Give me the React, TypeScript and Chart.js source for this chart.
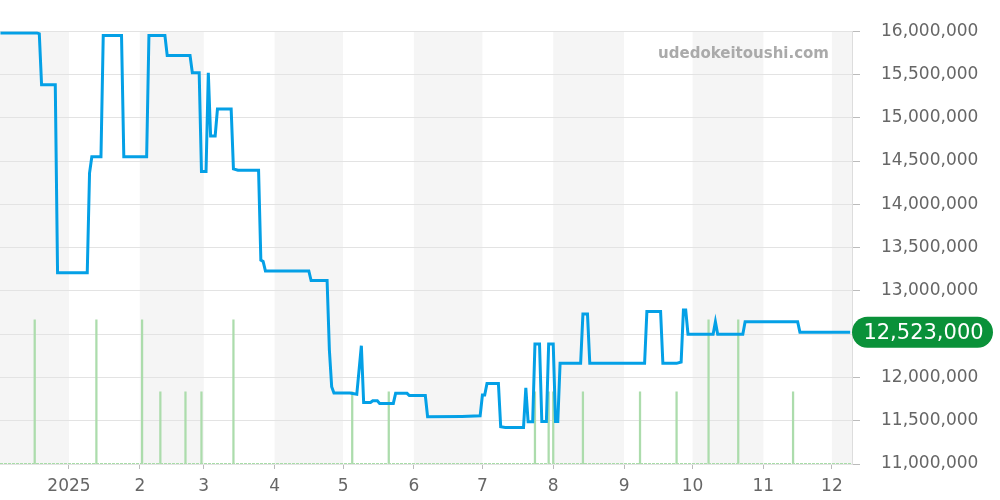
import React, { useEffect, useRef } from "react";
import { Chart, registerables } from "chart.js";

Chart.register(...registerables);

// Price series (date, JPY)
const priceDates: string[] = [
  "2024-12-02", "2024-12-18", "2024-12-19", "2024-12-20", "2024-12-26", "2024-12-27",
  "2025-01-09", "2025-01-10", "2025-01-11", "2025-01-15", "2025-01-16", "2025-01-24",
  "2025-01-25", "2025-02-04", "2025-02-05", "2025-02-12", "2025-02-13", "2025-02-23",
  "2025-02-24", "2025-02-27", "2025-02-28", "2025-03-02", "2025-03-03", "2025-03-04",
  "2025-03-06", "2025-03-07", "2025-03-13", "2025-03-14", "2025-03-16", "2025-03-25",
  "2025-03-26", "2025-03-27", "2025-03-28", "2025-04-16", "2025-04-17", "2025-04-24",
  "2025-04-25", "2025-04-26", "2025-04-27", "2025-05-04", "2025-05-07", "2025-05-09",
  "2025-05-10", "2025-05-13", "2025-05-14", "2025-05-16", "2025-05-17", "2025-05-23",
  "2025-05-24", "2025-05-29", "2025-05-30", "2025-06-06", "2025-06-07", "2025-06-22",
  "2025-06-30", "2025-07-01", "2025-07-02", "2025-07-03", "2025-07-08", "2025-07-09",
  "2025-07-11", "2025-07-19", "2025-07-20", "2025-07-21", "2025-07-23", "2025-07-24",
  "2025-07-26", "2025-07-27", "2025-07-29", "2025-07-30", "2025-08-01", "2025-08-02",
  "2025-08-03", "2025-08-04", "2025-08-13", "2025-08-14", "2025-08-16", "2025-08-17",
  "2025-09-10", "2025-09-11", "2025-09-17", "2025-09-18", "2025-09-24", "2025-09-26",
  "2025-09-27", "2025-09-28", "2025-09-29", "2025-10-10", "2025-10-11", "2025-10-12",
  "2025-10-23", "2025-10-24", "2025-11-16", "2025-11-17", "2025-12-09",
];

const priceValues: number[] = [
  15980000, 15980000, 15970000, 15380000, 15380000, 13210000,
  13210000, 14360000, 14550000, 14550000, 15950000, 15950000,
  14550000, 14550000, 15950000, 15950000, 15720000, 15720000,
  15520000, 15520000, 14380000, 14380000, 15520000, 14790000,
  14790000, 15100000, 15100000, 14410000, 14395000, 14395000,
  13356000, 13340000, 13230000, 13230000, 13120000, 13120000,
  12317000, 11893000, 11820000, 11820000, 11805000, 12366000,
  11710000, 11710000, 11730000, 11730000, 11700000, 11700000,
  11816000, 11816000, 11790000, 11790000, 11546000, 11550000,
  11556000, 11797000, 11797000, 11930000, 11930000, 11430000,
  11423000, 11423000, 11880000, 11488000, 11488000, 12386000,
  12386000, 11490000, 11490000, 12386000, 12386000, 11490000,
  11490000, 12163000, 12163000, 12732000, 12732000, 12163000,
  12163000, 12763000, 12763000, 12163000, 12163000, 12178000,
  12778000, 12778000, 12500000, 12500000, 12643000, 12500000,
  12500000, 12643000, 12643000, 12523000, 12523000,
];

// Trade volume marks
const volumeDates: string[] = [
  "2024-12-17", "2025-01-13", "2025-02-02", "2025-02-10", "2025-02-21", "2025-02-28",
  "2025-03-14", "2025-05-05", "2025-05-21", "2025-07-24", "2025-07-30", "2025-08-01",
  "2025-08-14", "2025-09-08", "2025-09-24", "2025-10-08", "2025-10-21", "2025-11-14",
];
const volumeValues: number[] = [2, 2, 2, 1, 1, 1, 2, 1, 1, 1, 1, 1, 1, 1, 1, 2, 2, 1];

// Month ticks
const monthStarts: string[] = [
  "2025-01-01", "2025-02-01", "2025-03-01", "2025-04-01", "2025-05-01", "2025-06-01",
  "2025-07-01", "2025-08-01", "2025-09-01", "2025-10-01", "2025-11-01", "2025-12-01",
];
const monthLabels: string[] = ["2025", "2", "3", "4", "5", "6", "7", "8", "9", "10", "11", "12"];
const shadedMonths: [string, string][] = [
  ["2024-12-01", "2025-01-01"],
  ["2025-02-01", "2025-03-01"],
  ["2025-04-01", "2025-05-01"],
  ["2025-06-01", "2025-07-01"],
  ["2025-08-01", "2025-09-01"],
  ["2025-10-01", "2025-11-01"],
  ["2025-12-01", "2026-01-01"],
];

const WATERMARK = "udedokeitoushi.com";

const BASE = Date.UTC(2025, 0, 1);
const toDay = (s: string): number => {
  const [y, m, d] = s.split("-").map(Number);
  return (Date.UTC(y, m - 1, d) - BASE) / 86400000;
};

const FONT = "'DejaVu Sans', sans-serif";

export default function App() {
  const ref = useRef<HTMLCanvasElement | null>(null);

  useEffect(() => {
    document.body.style.margin = "0";
    if (!ref.current) return;

    const priceData = priceDates.map((d, i) => ({ x: toDay(d), y: priceValues[i] }));
    const volData = volumeDates.map((d, i) => ({ x: toDay(d), y: volumeValues[i] }));
    const tickDays = monthStarts.map(toDay);

    const bandsPlugin = {
      id: "bands",
      beforeDraw(chart: any) {
        const { ctx, chartArea, scales } = chart;
        const xs = scales.x;
        ctx.save();
        ctx.fillStyle = "#f5f5f5";
        for (const [a, b] of shadedMonths) {
          const x1 = Math.max(chartArea.left, xs.getPixelForValue(toDay(a)));
          const x2 = Math.min(chartArea.right, xs.getPixelForValue(toDay(b)));
          if (x2 > x1) ctx.fillRect(x1, chartArea.top, x2 - x1, chartArea.bottom - chartArea.top);
        }
        ctx.restore();
      },
    };

    const overlayPlugin = {
      id: "overlay",
      afterDraw(chart: any) {
        const { ctx, chartArea, scales } = chart;
        ctx.save();
        // watermark
        ctx.font = `bold 15px ${FONT}`;
        ctx.fillStyle = "#aaaaaa";
        ctx.textAlign = "right";
        ctx.textBaseline = "alphabetic";
        ctx.fillText(WATERMARK, 829, 58);
        // last value badge
        const last = priceValues[priceValues.length - 1];
        const y = scales.y.getPixelForValue(last);
        const x0 = chartArea.right;
        const w = 141;
        const h = 31;
        const r = h / 2;
        ctx.fillStyle = "#0a9139";
        ctx.beginPath();
        ctx.moveTo(x0 + r, y - r);
        ctx.lineTo(x0 + w - r, y - r);
        ctx.arc(x0 + w - r, y, r, -Math.PI / 2, Math.PI / 2);
        ctx.lineTo(x0 + r, y + r);
        ctx.arc(x0 + r, y, r, Math.PI / 2, (3 * Math.PI) / 2);
        ctx.closePath();
        ctx.fill();
        ctx.fillStyle = "#ffffff";
        ctx.font = `21px ${FONT}`;
        ctx.textAlign = "center";
        ctx.textBaseline = "middle";
        ctx.fillText(last.toLocaleString("en-US"), x0 + w / 2 + 1, y + 1);
        ctx.restore();
      },
    };

    const chart = new Chart(ref.current, {
      type: "bar",
      data: {
        datasets: [
          {
            type: "line",
            data: priceData,
            yAxisID: "y",
            borderColor: "#04a0e6",
            borderWidth: 3,
            pointRadius: 0,
            tension: 0,
            fill: false,
            order: 0,
          } as any,
          {
            type: "bar",
            data: volData,
            yAxisID: "y2",
            backgroundColor: "#acdcac",
            barThickness: 1.6,
            order: 1,
          } as any,
          {
            type: "line",
            data: [
              { x: -30.2, y: 0 },
              { x: 342.8, y: 0 },
            ],
            yAxisID: "y2",
            borderColor: "#a8dca8",
            borderWidth: 2,
            borderDash: [3, 1],
            pointRadius: 0,
            order: 2,
          } as any,
        ],
      },
      options: {
        animation: false,
        responsive: true,
        maintainAspectRatio: false,
        layout: { padding: { top: 31, left: 0, right: 0, bottom: 0 } },
        plugins: {
          legend: { display: false },
          tooltip: { enabled: false },
        },
        scales: {
          x: {
            type: "linear",
            min: -30.2,
            max: 342.8,
            offset: false,
            bounds: "ticks",
            afterBuildTicks(scale: any) {
              scale.ticks = tickDays.map((v) => ({ value: v }));
            },
            afterFit(scale: any) {
              scale.height = 36;
            },
            ticks: {
              autoSkip: false,
              maxRotation: 0,
              padding: 7,
              color: "#666666",
              font: { family: FONT, size: 17 },
              callback(value: any) {
                const i = tickDays.indexOf(Number(value));
                return i >= 0 ? monthLabels[i] : "";
              },
            },
            grid: {
              offset: false,
              drawOnChartArea: false,
              drawTicks: true,
              tickLength: 5,
              tickColor: "#bbbbbb",
            },
            border: { display: false },
          },
          y: {
            type: "linear",
            position: "right",
            min: 11000000,
            max: 16000000,
            afterFit(scale: any) {
              scale.width = 148;
            },
            ticks: {
              stepSize: 500000,
              padding: 21,
              color: "#666666",
              font: { family: FONT, size: 17 },
              callback(value: any) {
                return Number(value).toLocaleString("en-US");
              },
            },
            grid: {
              color: "#e3e3e3",
              tickLength: 8,
              tickColor: "#bbbbbb",
            },
            border: { display: true, color: "#dddddd" },
          },
          y2: {
            type: "linear",
            display: false,
            min: 0,
            max: 6,
          },
        },
      } as any,
      plugins: [bandsPlugin, overlayPlugin],
    });

    return () => chart.destroy();
  }, []);

  return (
    <div style={{ width: 1000, height: 500, position: "relative" }}>
      <canvas ref={ref} />
    </div>
  );
}
